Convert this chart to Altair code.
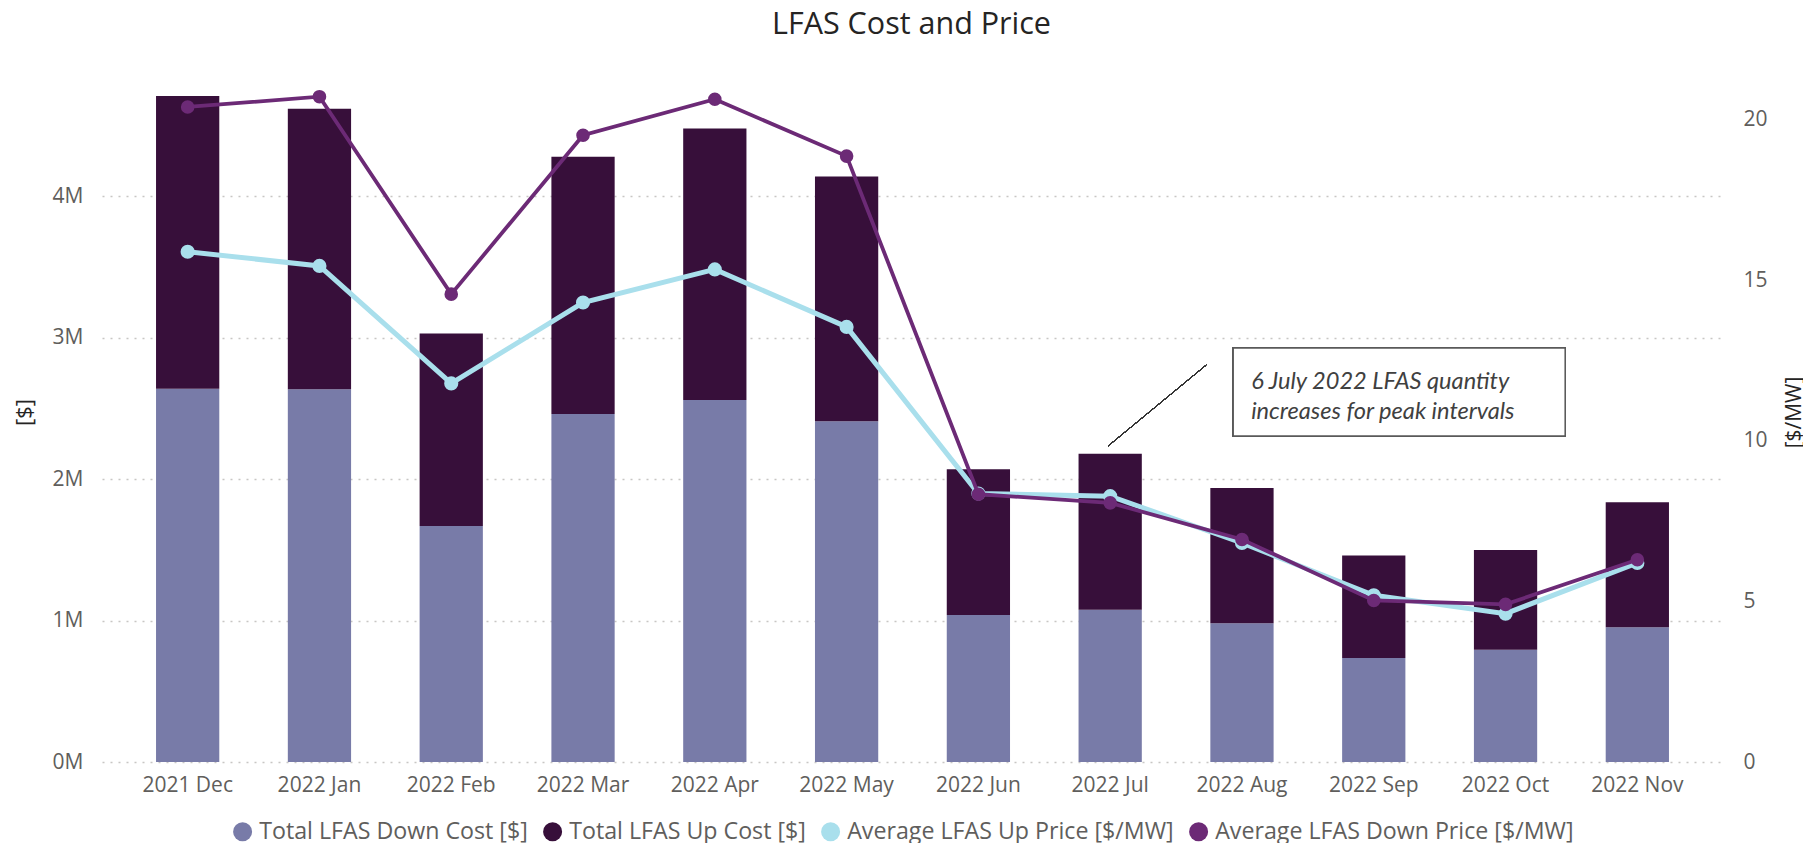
import altair as alt
import pandas as pd

months = ["2021 Dec", "2022 Jan", "2022 Feb", "2022 Mar", "2022 Apr", "2022 May",
          "2022 Jun", "2022 Jul", "2022 Aug", "2022 Sep", "2022 Oct", "2022 Nov"]
down_cost = [2.640e6, 2.635e6, 1.668e6, 2.460e6, 2.560e6, 2.410e6,
             1.040e6, 1.076e6, 0.982e6, 0.736e6, 0.793e6, 0.953e6]
up_cost = [2.070e6, 1.985e6, 1.362e6, 1.820e6, 1.920e6, 1.730e6,
           1.030e6, 1.104e6, 0.955e6, 0.724e6, 0.707e6, 0.883e6]
up_price = [15.89, 15.45, 11.79, 14.31, 15.34, 13.55, 8.36, 8.28, 6.82, 5.19, 4.62, 6.20]
down_price = [20.40, 20.72, 14.57, 19.52, 20.64, 18.87, 8.34, 8.07, 6.93, 5.03, 4.91, 6.30]

series_names = ["Total LFAS Down Cost [$]", "Total LFAS Up Cost [$]",
                "Average LFAS Up Price [$/MW]", "Average LFAS Down Price [$/MW]"]
series_colors = ["#787BA8", "#370F3A", "#A9DFEC", "#6C2A76"]

cost_ticks = [0, 1e6, 2e6, 3e6, 4e6]
price_ticks = [0, 5, 10, 15, 20]

title_text = ["LFAS Cost and Price"]
ann_month = "2022 Jul"
ann_lines = ["6 July 2022 LFAS quantity", "increases for peak intervals"]

FONT = "Open Sans"
GRAY = "#605E5C"
DARK = "#252423"
W, H = 1621, 700

cost_df = pd.DataFrame({
    "month": months * 2,
    "series": [series_names[0]] * len(months) + [series_names[1]] * len(months),
    "value": down_cost + up_cost,
    "ord": [0] * len(months) + [1] * len(months),
})
price_df = pd.DataFrame({
    "month": months * 2,
    "series": [series_names[2]] * len(months) + [series_names[3]] * len(months),
    "price": up_price + down_price,
})
one_df = pd.DataFrame({"t": title_text})

xscale = alt.Scale(domain=months, paddingInner=0.52, paddingOuter=0.41)
xenc = alt.X("month:N", scale=xscale, sort=months,
             axis=alt.Axis(title=None, labelAngle=0, labelFontSize=21, labelColor=GRAY,
                           labelFont=FONT, domain=False, ticks=False, labelPadding=12))

cost_scale = alt.Scale(domain=[0, 4.95e6], nice=False, zero=True)
cost_axis = alt.Axis(values=cost_ticks, labelExpr="format(datum.value/1e6, 'd') + 'M'",
                     title="[$]", titleFontSize=22, titleColor=DARK, titleFont=FONT,
                     titleFontWeight="normal", titlePadding=16,
                     labelFontSize=21, labelColor=GRAY, labelFont=FONT, labelPadding=19,
                     domain=False, ticks=False, grid=True, gridColor="#C8C6C4",
                     gridDash=[2, 6], gridWidth=1.5)

color_scale = alt.Scale(domain=series_names, range=series_colors)

bars = alt.Chart(cost_df).mark_bar().encode(
    x=xenc,
    y=alt.Y("value:Q", stack="zero", scale=cost_scale, axis=cost_axis),
    color=alt.Color("series:N", scale=color_scale,
                    legend=alt.Legend(title=None, orient="none", direction="horizontal",
                                      legendX=129, legendY=758,
                                      symbolType="circle", symbolSize=361,
                                      symbolStrokeWidth=0, symbolOpacity=1,
                                      labelFontSize=23.2, labelColor=GRAY, labelFont=FONT,
                                      labelOffset=5, columnPadding=13, labelLimit=500)),
    order=alt.Order("ord:Q"),
)

box = alt.Chart(cost_df).mark_bar(width=332, xOffset=289, fill="white", stroke="#595959",
                                  strokeWidth=1.5).encode(
    x=alt.X(datum=ann_month, type="nominal"),
    y=alt.Y(datum=2.928e6),
    y2=alt.Y2(datum=2.305e6),
)
leader = alt.Chart(cost_df).mark_rule(color="#333333", strokeWidth=1, xOffset=-2,
                                      x2Offset=96).encode(
    x=alt.X(datum=ann_month, type="nominal"),
    x2=alt.X2(datum=ann_month),
    y=alt.Y(datum=2.235e6),
    y2=alt.Y2(datum=2.807e6),
)
ann_style = dict(align="left", baseline="middle", dx=141, fontSize=23.6, font="Lato",
                 fontStyle="italic", fontWeight="normal", color="#404040")
txt1 = alt.Chart(one_df).mark_text(**ann_style).encode(
    x=alt.X(datum=ann_month, type="nominal"),
    y=alt.Y(datum=2.690e6),
    text=alt.value(ann_lines[0]),
)
txt2 = alt.Chart(one_df).mark_text(**ann_style).encode(
    x=alt.X(datum=ann_month, type="nominal"),
    y=alt.Y(datum=2.475e6),
    text=alt.value(ann_lines[1]),
)

cost_layer = alt.layer(bars, box, leader, txt1, txt2)

price_scale = alt.Scale(domain=[0, 21.8], nice=False, zero=True)
price_axis = alt.Axis(orient="right", values=price_ticks, title="[$/MW]", titleFontSize=21,
                      titleColor=DARK, titleFont=FONT, titleFontWeight="normal",
                      titleAngle=270, titleBaseline="top",
                      titlePadding=16, labelFontSize=21, labelColor=GRAY, labelFont=FONT,
                      labelPadding=20, domain=False, ticks=False, grid=False)

pbase = alt.Chart(price_df).encode(
    x=alt.X("month:N", scale=xscale, sort=months),
    y=alt.Y("price:Q", scale=price_scale, axis=price_axis),
)
up_line = pbase.transform_filter(alt.datum.series == series_names[2]).mark_line(
    color=series_colors[2], strokeWidth=5)
up_pts = pbase.transform_filter(alt.datum.series == series_names[2]).mark_point(
    color=series_colors[2], filled=True, opacity=1, size=200)
dn_line = pbase.transform_filter(alt.datum.series == series_names[3]).mark_line(
    color=series_colors[3], strokeWidth=3.8)
dn_pts = pbase.transform_filter(alt.datum.series == series_names[3]).mark_point(
    color=series_colors[3], filled=True, opacity=1, size=185)

title_mark = alt.Chart(one_df).mark_text(fontSize=30.5, font=FONT, color=DARK,
                                         align="center", baseline="alphabetic").encode(
    x=alt.value(W / 2 - 1), y=alt.value(-28), text="t:N")

price_layer = alt.layer(up_line, up_pts, dn_line, dn_pts, title_mark)

chart = alt.layer(cost_layer, price_layer).resolve_scale(y="independent").properties(
    width=W, height=H,
    autosize=alt.AutoSizeParams(type="none"),
    padding={"left": 94, "top": 54, "right": 80, "bottom": 81},
).configure_view(stroke=None)

chart.save("out.html", embed_options={"renderer": "svg", "actions": False})
